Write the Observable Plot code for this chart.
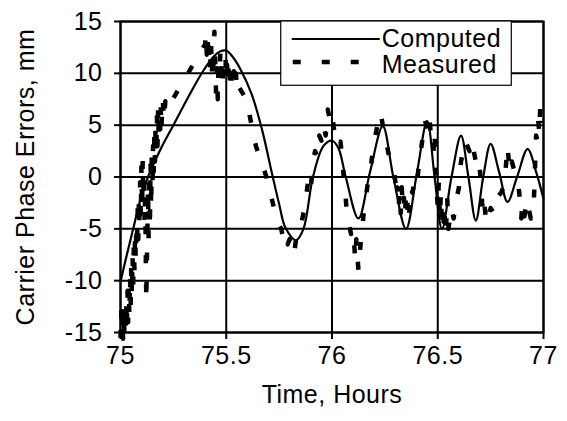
<!DOCTYPE html>
<html><head><meta charset="utf-8">
<script src="https://cdn.jsdelivr.net/npm/d3@7"></script>
<script src="https://cdn.jsdelivr.net/npm/@observablehq/plot@0.6"></script>
<style>html,body{margin:0;padding:0;background:#fff}svg{display:block}</style>
</head><body><div id="chart"></div>
<script>
const xTicks = [75, 75.5, 76, 76.5, 77];
const yTicks = [-15, -10, -5, 0, 5, 10, 15];
const seriesNames = ["Computed", "Measured"];
const xLabel = "Time, Hours";
const yLabel = "Carrier Phase Errors, mm";

const computedT = [75.00,75.03,75.06,75.09,75.13,75.19,75.25,75.32,75.39,75.44,75.47,75.50,75.53,75.567,75.62,75.67,75.72,75.75,75.78,75.83,75.865,75.91,75.96,76.00,76.03,76.065,76.125,76.18,76.24,76.29,76.35,76.40,76.45,76.485,76.52,76.565,76.61,76.645,76.68,76.715,76.75,76.79,76.83,76.875,76.925,76.965,77.00];
const computedV = [-10.1,-7.5,-5.0,-2.5,0.0,2.7,5.0,7.7,10.2,11.6,12.1,12.2,11.6,10.4,8.0,4.5,0.0,-2.6,-4.9,-6.1,-5.0,0.0,3.0,3.5,2.8,0.0,-4.0,0.5,4.9,0.0,-5.0,0.2,5.4,0.0,-5.0,0.0,4.0,0.0,-4.2,0.0,3.2,0.5,-2.4,0.0,2.7,0.5,-2.1];

const measuredT = [75.000,75.003,75.006,75.009,75.012,75.015,75.018,75.021,75.024,75.027,75.030,75.033,75.036,75.039,75.042,75.045,75.048,75.051,75.054,75.057,75.060,75.063,75.066,75.069,75.072,75.075,75.078,75.081,75.084,75.087,75.090,75.093,75.096,75.099,75.102,75.105,75.108,75.111,75.114,75.117,75.120,75.122,75.124,75.127,75.130,75.133,75.136,75.139,75.142,75.145,75.148,75.151,75.154,75.157,75.160,75.163,75.166,75.169,75.172,75.175,75.178,75.181,75.184,75.187,75.190,75.193,75.196,75.200,75.205,75.212,75.218,
75.400,75.404,75.408,75.412,75.416,75.420,75.424,75.428,75.432,75.436,75.440,75.444,75.448,75.452,75.456,75.460,75.464,75.468,75.472,75.476,75.480,75.484,75.488,75.492,75.496,75.500,75.504,75.508,75.512,75.516,75.520,75.524,75.528,75.532,75.536,75.540,75.545,75.550,75.556,75.562,75.580,75.600,75.610,75.640,75.690,75.720,75.740,75.760,75.770,75.780,75.790,75.800,75.810,75.820,75.830,75.845,75.860,75.870,75.880,75.890,75.900,75.910,75.920,75.930,75.940,75.950,75.960,75.970,75.980,75.990,76.000,76.010,76.020,76.040,76.050,76.055,76.065,76.070,76.080,76.090,76.100,76.105,76.110,76.115,76.125,76.135,76.140,76.150,76.160,76.170,76.180,76.190,76.200,76.210,76.220,76.230,76.240,76.250,76.260,76.270,76.280,76.290,76.300,76.305,76.310,76.315,76.320,76.325,76.330,76.335,76.340,76.345,76.350,76.355,76.360,76.365,76.370,76.380,76.390,76.400,76.410,76.420,76.430,76.440,76.450,76.460,76.470,76.480,76.485,76.490,76.495,76.500,76.505,76.510,76.515,76.520,76.525,76.530,76.535,76.540,76.545,76.550,76.565,76.575,76.585,76.600,76.610,76.630,76.650,76.660,76.680,76.690,76.700,76.705,76.710,76.715,76.720,76.730,76.750,76.765,76.780,76.800,76.810,76.820,76.830,76.840,76.850,76.870,76.880,76.885,76.890,76.895,76.900,76.910,76.920,76.940,76.950,76.955,76.960,76.965,76.970,76.975,76.980,76.985,76.990];
const measuredV = [-15.5,-12.8,-15.0,-13.2,-15.6,-12.5,-14.8,-13.0,-15.3,-12.0,-14.6,-11.0,-14.0,-10.5,-13.5,-9.5,-12.5,-8.5,-11.5,-7.5,-10.5,-6.5,-9.0,-5.5,-8.0,-4.5,-7.0,-3.0,-6.0,-2.0,-5.0,-0.5,-4.0,1.0,-3.0,1.8,-2.0,0.5,-4.5,-1.0,-8.5,-12.0,-9.0,-5.5,-1.0,-6.0,0.5,-5.0,1.5,-3.0,2.5,-1.0,3.0,0.5,4.0,1.5,5.0,2.0,6.0,3.0,6.8,3.5,5.5,4.0,7.0,4.5,6.0,7.5,5.5,7.3,6.5,
12.8,13.8,11.8,13.5,11.0,12.5,10.5,13.0,10.0,12.0,9.5,14.0,11.0,8.0,10.5,7.5,11.5,9.5,12.0,10.0,11.5,9.5,11.0,10.0,11.8,9.5,10.8,9.0,11.0,9.5,10.5,9.0,10.5,9.2,10.2,9.0,10.0,9.0,9.6,8.6,8.0,7.3,6.0,3.0,0.0,-2.5,-4.3,-5.0,-6.0,-5.5,-6.5,-6.0,-7.0,-7.5,-6.0,-5.5,-4.0,-3.0,-1.5,0.0,-1.0,1.5,2.5,2.0,4.0,3.5,5.0,4.0,6.5,5.5,6.2,4.5,3.0,3.4,1.5,0.0,-2.0,-3.5,-4.5,-5.5,-5.0,-6.5,-8.0,-6.0,-9.0,-6.5,-5.5,-3.5,-2.0,-0.5,0.5,2.0,3.5,4.5,5.5,6.2,5.0,4.0,3.0,2.0,1.5,1.0,-0.5,-2.0,-1.0,-3.0,-1.5,-3.5,-1.0,-3.0,-2.0,-3.8,-1.5,-3.0,-2.0,-3.5,-1.0,-1.5,-0.5,-1.0,1.0,2.5,4.0,5.5,4.5,5.8,3.5,2.5,4.5,1.0,-1.0,-3.0,-0.5,-4.0,-1.5,-5.0,-2.5,-5.5,-3.0,-4.5,-2.0,-5.0,-3.0,-4.0,-2.5,-1.0,1.5,3.5,2.5,3.5,1.5,2.0,0.5,-1.0,-2.5,-3.5,-2.5,-4.5,-3.0,-3.5,-2.0,-1.5,-1.0,0.5,3.0,0.5,1.5,0.0,-0.5,-1.5,-2.5,-4.0,-2.5,-3.8,-2.2,-4.0,-3.0,-2.0,1.0,4.0,3.6,5.5,4.2,7.0,5.2,7.2,5.6,6.8];

const computed = computedT.map((t, i) => ({t, v: computedV[i]}));
const measured = measuredT.map((t, i) => ({t, v: measuredV[i]}));

const FONT = "'Liberation Sans', Arial, Helvetica, sans-serif";
const FS = 25;
const fmt = d => String(d);

const chart = Plot.plot({
  width: 567, height: 421,
  marginLeft: 120, marginRight: 24, marginTop: 21, marginBottom: 89,
  style: {fontFamily: FONT, fontSize: FS + "px", letterSpacing: "0.5px", color: "#000", background: "#fff", overflow: "visible"},
  x: {domain: [75, 77]},
  y: {domain: [-15, 15]},
  marks: [
    Plot.gridX(xTicks, {stroke: "#000", strokeOpacity: 1, strokeWidth: 2}),
    Plot.gridY(yTicks, {stroke: "#000", strokeOpacity: 1, strokeWidth: 2}),
    Plot.frame({stroke: "#000", strokeWidth: 2}),
    Plot.axisX(xTicks, {tickSize: 7, tickPadding: 7, tickFormat: fmt, strokeWidth: 2, label: xLabel, labelAnchor: "center", labelOffset: 70, labelArrow: "none", fontSize: FS}),
    Plot.axisY(yTicks, {tickSize: 6, tickPadding: 12, tickFormat: fmt, strokeWidth: 2, label: yLabel, labelAnchor: "center", labelOffset: 104, labelArrow: "none", fontSize: FS}),
    Plot.line(computed, {x: "t", y: "v", stroke: "#000", strokeWidth: 2.2, curve: "catmull-rom"}),
    Plot.line(measured, {x: "t", y: "v", stroke: "#000", strokeWidth: 4.5, strokeDasharray: "8,21", strokeLinecap: "butt"})
  ]
});

// legend (positioned through the chart's own scales)
const sx = chart.scale("x"), sy = chart.scale("y");
const lx0 = sx.apply(75.76), lx1 = sx.apply(76.85), ly0 = sy.apply(15), ly1 = sy.apply(8.8);
const svg = d3.select(chart);
const lg = svg.append("g").attr("font-family", FONT).attr("font-size", FS).attr("fill", "#000").attr("text-anchor", "start");
lg.append("rect").attr("x", lx0).attr("y", ly0).attr("width", lx1 - lx0).attr("height", ly1 - ly0)
  .attr("fill", "#fff").attr("stroke", "#000").attr("stroke-width", 1.2);
lg.append("line").attr("x1", lx0 + 11).attr("x2", lx0 + 99).attr("y1", ly0 + 18).attr("y2", ly0 + 18)
  .attr("stroke", "#000").attr("stroke-width", 2.2);
lg.append("line").attr("x1", lx0 + 12).attr("x2", lx0 + 99).attr("y1", ly0 + 41).attr("y2", ly0 + 41)
  .attr("stroke", "#000").attr("stroke-width", 4.5).attr("stroke-dasharray", "8,21");
lg.append("text").attr("x", lx0 + 101).attr("y", ly0 + 26).style("text-anchor", "start").text(seriesNames[0]);
lg.append("text").attr("x", lx0 + 101).attr("y", ly0 + 52).style("text-anchor", "start").text(seriesNames[1]);

document.getElementById("chart").appendChild(chart);
</script>
</body></html>
